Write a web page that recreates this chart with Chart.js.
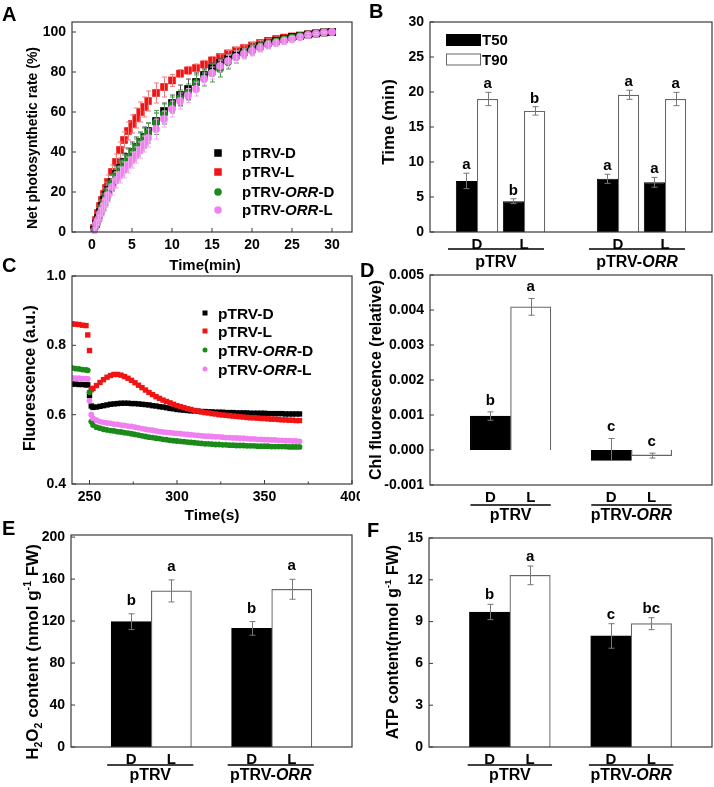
<!DOCTYPE html>
<html><head><meta charset="utf-8">
<script src="https://cdn.jsdelivr.net/npm/chart.js@4.4.0/dist/chart.umd.min.js"></script>
<style>
html,body{margin:0;padding:0;background:#fff;width:714px;height:787px;overflow:hidden;}
#wrap{position:relative;width:714px;height:787px;background:#fff;}
canvas{position:absolute;}
</style></head><body><div id="wrap"></div>
<script>
// ---------------- DATA ----------------
// Panel A: net photosynthetic rate (%) vs time (min)
const timeA = [0.25,0.5,0.75,1,1.25,1.5,1.75,2,2.5,3,3.5,4,4.5,5,5.5,6,6.5,7,8,9,10,11,12,13,14,15,16,17,18,19,20,21,22,23,24,25,26,27,28,29,30];
const rateD  = [1,4,7,10,13,16,18.5,21,25,29,32,35,37.5,40,42.5,45,47.5,50.5,55.5,60.5,64.5,68.5,71.5,75,78.5,82,84.5,86.5,88.5,90,91.5,93,94.5,95.5,96.5,97.5,98,98.8,99.3,99.8,100];
const rateL  = [2,6,9.5,13,16,19,22,25,30,35,41,46,50.5,54,57,60,62.5,65.5,69.5,72.5,75.8,79.2,80.8,82,83.8,85.8,87.5,89.3,90.8,92,93.3,94.5,95.6,96.5,97.2,97.8,98.3,98.8,99.3,99.8,100];
const rateOD = [0.5,3.5,6.5,9.5,12.5,15,17.5,20,24.5,28.5,31.5,34.5,37,39.5,42,44.5,47,49.5,54.8,59,63.5,67,70,74.5,77,79.5,81.5,85,87.5,89.5,91,92.5,94,95.2,96.3,97.2,98,98.7,99.2,99.8,100];
const rateOL = [0.5,4,6,9,11,13.5,16,18.5,22.5,26,28.5,31,33.5,36,38.5,41,44,47,51.5,56.5,61.5,65.5,68.3,71.5,76.5,79.5,83,85.5,87.5,89,90.5,92,93.5,94.5,95.5,96.5,97.5,98.5,99.2,99.8,100];
const errD  = [1,2,3,3,3,3.5,3.5,4,4,4,4,4.5,4.5,5,5,5,5,4,4,4,4,5,5,4.5,3,2.5,2.5,2.5,2,2,2,1.5,1.5,1.2,1,1,0.8,0.6,0.5,0.3,0];
const errL  = [1,2,2,2.5,3,3,3,3.5,3.5,4,4,4,4.5,4.5,5,5,5,5,5,5,3,2,2,2,2,2,1.5,1.5,1.5,1.5,1.5,1.2,1,1,1,0.8,0.8,0.5,0.5,0.3,0];
const errOD = [1,2,3,3.5,3.5,4,4,4,4,4,4,4,4.5,4.5,4.5,5,5,5,6,5,4,4,4,4,4,4.5,4,3.5,3,2.5,2.5,2,2,1.5,1.5,1,1,0.8,0.5,0.3,0];
const errOL = [1,2,2.5,3,3,3,3.5,3.5,4,4,4,4,4,4,4,4,4,4.5,5,4,4,4,3.5,3.5,3,3,3,3,3,2.5,2.5,2,2,1.5,1.5,1.2,1,0.8,0.5,0.3,0];
const ticksAx = [0,5,10,15,20,25,30];
const ticksAy = [0,20,40,60,80,100];

// Panel B: T50 / T90 (min)
const xCats = ['', 'D', 'L', '', 'D', 'L', ''];
const groupNames = ['pTRV', 'pTRV-ORR'];
const t50 = [7.3, 4.4, 7.6, 7.1];
const t50Err = [1.1, 0.35, 0.65, 0.7];
const t50Let = ['a', 'b', 'a', 'a'];
const t90 = [19.0, 17.3, 19.6, 19.0];
const t90Err = [0.95, 0.6, 0.65, 0.95];
const t90Let = ['a', 'b', 'a', 'a'];
const ticksB = [0,5,10,15,20,25,30];

// Panel C: fluorescence (a.u.) vs time (s)
const timeC = [240,242,244,246,248,249,250,251,252,254,256,258,260,262,264,266,268,270,272,274,276,278,280,282,284,286,288,290,292,294,296,298,300,302,304,306,308,310,312,314,316,318,320,322,324,326,328,330,332,334,336,338,340,342,344,346,348,350,352,354,356,358,360,362,364,366,368,370];
const fluD = [0.688,0.688,0.687,0.687,0.686,0.686,0.655,0.625,
 0.621,0.622,0.624,0.626,0.628,0.630,0.631,0.632,0.633,0.633,
 0.633,0.632,0.632,0.631,0.630,0.629,0.628,0.626,0.625,0.623,
 0.622,0.620,0.618,0.617,0.615,0.614,0.613,0.612,0.611,0.611,
 0.610,0.609,0.609,0.608,0.608,0.607,0.607,0.607,0.606,0.606,
 0.606,0.605,0.605,0.605,0.605,0.604,0.604,0.604,0.604,0.604,
 0.603,0.603,0.603,0.603,0.603,0.602,0.602,0.602,0.602,0.602];
const fluL = [0.862,0.861,0.860,0.858,0.857,0.830,0.785,0.672,
 0.676,0.684,0.693,0.701,0.708,0.713,0.716,0.716,0.714,0.710,
 0.705,0.699,0.692,0.685,0.678,0.671,0.664,0.658,0.652,0.647,
 0.642,0.638,0.634,0.630,0.626,0.623,0.620,0.617,0.615,0.612,
 0.610,0.608,0.606,0.605,0.603,0.602,0.600,0.599,0.598,0.597,
 0.596,0.595,0.594,0.593,0.592,0.591,0.591,0.590,0.589,0.589,
 0.588,0.587,0.587,0.586,0.585,0.585,0.584,0.584,0.583,0.583];
const fluOD = [0.735,0.733,0.732,0.730,0.729,0.728,0.665,0.580,
 0.570,0.564,0.561,0.558,0.556,0.554,0.553,0.551,0.550,0.548,
 0.547,0.545,0.543,0.541,0.539,0.537,0.535,0.534,0.532,0.531,
 0.529,0.528,0.526,0.525,0.524,0.523,0.522,0.521,0.520,0.519,
 0.518,0.517,0.516,0.516,0.515,0.514,0.514,0.513,0.513,0.512,
 0.512,0.511,0.511,0.511,0.510,0.510,0.510,0.509,0.509,0.509,
 0.509,0.508,0.508,0.508,0.508,0.508,0.507,0.507,0.507,0.507];
const fluOL = [0.706,0.705,0.705,0.704,0.704,0.703,0.640,0.600,
 0.590,0.584,0.580,0.578,0.576,0.575,0.573,0.572,0.570,0.569,
 0.567,0.566,0.564,0.562,0.560,0.558,0.556,0.555,0.553,0.551,
 0.550,0.549,0.548,0.547,0.546,0.545,0.544,0.543,0.542,0.541,
 0.540,0.539,0.538,0.538,0.537,0.536,0.536,0.535,0.534,0.534,
 0.533,0.533,0.532,0.532,0.531,0.530,0.530,0.529,0.529,0.528,
 0.528,0.527,0.527,0.526,0.526,0.525,0.525,0.524,0.524,0.523];
const ticksCx = [250,300,350,400];
const ticksCy = [0.4,0.6,0.8,1.0];

// Panel D: Chl fluorescence (relative)
const chl = [0.00097, 0.00409, -0.0003, -0.00016];
const chlErr = [0.00012, 0.00024, 0.00063, 0.00007];
const chlErrLow = [0.00012, 0.00024, 0, 0.00007];
const chlLet = ['b', 'a', 'c', 'c'];
const ticksD = [-0.001,0,0.001,0.002,0.003,0.004,0.005];

// Panel E: H2O2 content
const h2o2 = [119.4, 148.7, 113.0, 150.3];
const h2o2Err = [7.5, 10.5, 6.5, 9.5];
const h2o2Let = ['b', 'a', 'b', 'a'];
const ticksE = [0,40,80,120,160,200];

// Panel F: ATP content
const atp = [9.69, 12.32, 7.97, 8.85];
const atpErr = [0.55, 0.67, 0.88, 0.43];
const atpLet = ['b', 'a', 'c', 'bc'];
const ticksF = [0,3,6,9,12,15];

// ---------------- HELPERS ----------------
const FONT = '"Liberation Sans", Arial, sans-serif';
const fnt = (size, it) => (it ? 'italic ' : '') + 'bold ' + size + 'px ' + FONT;
const COL = {black:'#000000', red:'#f01414', green:'#1a8a1a', pink:'#f080f0'};
const ERRCOL = {black:'#555555', red:'#f27a7a', green:'#4d9e4d', pink:'#f0a8f0'};
const SLOTS = [1, 2, 4, 5];
function toSlots(vals) { const a = xCats.map(() => null); SLOTS.forEach((s, i) => a[s] = vals[i]); return a; }
function grpSegs(name) {
  const k = name.indexOf('ORR');
  if (k < 0) return [{t:name}];
  return [{t:name.slice(0,k)}, {t:'ORR', it:true}, {t:name.slice(k+3)}];
}
function richWidth(ctx, segs, size) {
  let w = 0;
  for (const s of segs) { const sz = (s.sub || s.sup) ? size * 0.62 : size; ctx.font = fnt(sz, s.it); w += ctx.measureText(s.t).width; }
  return w;
}
function drawRich(ctx, segs, x, y, size, align, rot) {
  ctx.save();
  if (rot) { ctx.translate(x + size * 0.36, y); ctx.rotate(-Math.PI / 2); } else ctx.translate(x, y);
  const w = richWidth(ctx, segs, size);
  let cx = align === 'left' ? 0 : align === 'right' ? -w : -w / 2;
  ctx.textBaseline = 'alphabetic'; ctx.textAlign = 'left'; ctx.fillStyle = '#000';
  for (const s of segs) {
    const sz = (s.sub || s.sup) ? size * 0.62 : size;
    ctx.font = fnt(sz, s.it);
    const dy = s.sub ? size * 0.22 : s.sup ? -size * 0.42 : 0;
    ctx.fillText(s.t, cx, dy);
    cx += ctx.measureText(s.t).width;
  }
  ctx.restore();
}
function seg(ctx, x1, y1, x2, y2) { ctx.beginPath(); ctx.moveTo(x1, y1); ctx.lineTo(x2, y2); ctx.stroke(); }

const decor = {
  id: 'decor',
  afterDatasetDraw(chart, args) {
    const ds = chart.data.datasets[args.index];
    if (!ds.errors) return;
    const ys = chart.scales.y, ctx = chart.ctx, cap = ds.capHalf || 3;
    ctx.save();
    ctx.strokeStyle = ds.errColor || '#777'; ctx.lineWidth = 1;
    args.meta.data.forEach((el, i) => {
      const raw = ds.data[i];
      const v = raw && typeof raw === 'object' ? raw.y : raw;
      const e = ds.errors[i];
      const eLow = ds.errorsLow ? ds.errorsLow[i] : e;
      if (v == null || !e) return;
      const x = Math.round(el.x) + 0.5;
      const y1 = ys.getPixelForValue(v + e), y2 = ys.getPixelForValue(v - eLow);
      ctx.beginPath();
      ctx.moveTo(x, y1); ctx.lineTo(x, y2);
      ctx.moveTo(x - cap, y1); ctx.lineTo(x + cap, y1);
      if (eLow) { ctx.moveTo(x - cap, y2); ctx.lineTo(x + cap, y2); }
      ctx.stroke();
    });
    ctx.restore();
  },
  afterDatasetsDraw(chart) {
    const o = chart.canvas.decor, ctx = chart.ctx, ys = chart.scales.y;
    chart.data.datasets.forEach((ds, di) => {
      if (!ds.letters) return;
      const meta = chart.getDatasetMeta(di);
      meta.data.forEach((el, i) => {
        const L = ds.letters[i], v = ds.data[i];
        if (!L || v == null) return;
        const top = ys.getPixelForValue(v + (ds.errors ? ds.errors[i] : 0));
        drawRich(ctx, [{t:L}], el.x, top - o.letterGap, o.letterSize || 15, 'center');
      });
    });
  },
  afterDraw(chart) {
    const o = chart.canvas.decor, ctx = chart.ctx, ca = chart.chartArea;
    ctx.save();
    ctx.strokeStyle = '#3a3a3a'; ctx.lineWidth = 1.2;
    ctx.strokeRect(ca.left, ca.top, ca.right - ca.left, ca.bottom - ca.top);
    const ys = chart.scales.y, xs = chart.scales.x;
    ctx.lineWidth = 1;
    ys.ticks.forEach(t => { const y = ys.getPixelForValue(t.value); seg(ctx, ca.left, y, ca.left + 4, y); });
    if (o.xTicks) {
      const tv = xs.ticks.map(t => t.value);
      tv.forEach(v => { const x = xs.getPixelForValue(v); seg(ctx, x, ca.bottom, x, ca.bottom - 4); });
      if (o.xMinor) for (let i = 0; i < tv.length; i++) {
        const step = i + 1 < tv.length ? tv[i+1] - tv[i] : tv[i] - tv[i-1];
        const x = xs.getPixelForValue(tv[i] + step / 2);
        if (x < ca.right - 1) seg(ctx, x, ca.bottom, x, ca.bottom - 2.5);
      }
    }
    if (o.groups) {
      ctx.strokeStyle = '#000'; ctx.lineWidth = 1.5;
      o.groups.forEach(g => {
        const x1 = xs.getPixelForValue(g.i1) - o.ga, x2 = xs.getPixelForValue(g.i2) + o.gb;
        seg(ctx, x1, o.lineY - o.oy, x2, o.lineY - o.oy);
        drawRich(ctx, g.segs, (x1 + x2) / 2, o.labelY - o.oy, o.gSize, 'center');
      });
    }
    ctx.translate(-o.ox, -o.oy);
    (o.texts || []).forEach(t => drawRich(ctx, t.segs, t.x, t.y, t.size, t.align || 'center', t.rot));
    if (o.legend) {
      const lg = o.legend;
      lg.items.forEach((it, i) => {
        const y = lg.ys[i];
        ctx.fillStyle = it.color;
        if (it.kind === 'rect') ctx.fillRect(lg.mx - lg.ms / 2, y - lg.ms / 2, lg.ms, lg.ms);
        else if (it.kind === 'circle') { ctx.beginPath(); ctx.arc(lg.mx, y, lg.ms / 2, 0, Math.PI * 2); ctx.fill(); }
        else if (it.kind === 'box') {
          ctx.fillRect(lg.mx, y - lg.bh / 2, lg.bw, lg.bh);
          ctx.strokeStyle = it.stroke; ctx.lineWidth = 1;
          ctx.strokeRect(lg.mx + 0.5, y - lg.bh / 2 + 0.5, lg.bw - 1, lg.bh - 1);
        }
        drawRich(ctx, it.segs, lg.tx, y + lg.size * 0.36, lg.size, 'left');
      });
    }
    ctx.restore();
  }
};

const wrap = document.getElementById('wrap');
function tickCfg(list, size, pad, cb) {
  const c = {
    afterBuildTicks: s => { s.ticks = list.map(v => ({value: v})); },
    ticks: {font: {family: FONT, weight: 'bold', size: size}, color: '#000', padding: pad, maxRotation: 0, autoSkip: false},
    grid: {display: false, drawTicks: false}, border: {display: false}
  };
  if (cb) c.ticks.callback = cb;
  return c;
}
function makeChart(p) {
  const cv = document.createElement('canvas');
  cv.width = p.cw; cv.height = p.ch;
  cv.style.left = p.cx + 'px'; cv.style.top = p.cy + 'px';
  cv.style.width = p.cw + 'px'; cv.style.height = p.ch + 'px';
  wrap.appendChild(cv);
  cv.decor = Object.assign({ox: p.cx, oy: p.cy}, p.decor);
  const yW = p.L - p.cx, xH = p.cy + p.ch - p.B;
  p.yScale.afterFit = s => { s.width = yW; s.paddingTop = 0; s.paddingBottom = 0; };
  p.xScale.afterFit = s => { s.height = xH; s.paddingLeft = 0; s.paddingRight = 0; };
  p.yScale.position = 'left'; p.xScale.position = 'bottom';
  return new Chart(cv, {
    type: p.type, data: p.data,
    options: {
      responsive: false, animation: false, events: [], devicePixelRatio: 1,
      layout: {padding: {left: 0, top: p.T - p.cy, right: p.cx + p.cw - p.R, bottom: 0}},
      scales: {x: p.xScale, y: p.yScale},
      plugins: {legend: {display: false}, tooltip: {enabled: false}, title: {display: false}}
    },
    plugins: [decor]
  });
}

// ---------------- PANEL A ----------------
function dsA(vals, errs, col, style, r, ord) {
  return {data: timeA.map((t, i) => ({x: t, y: vals[i]})), errors: errs, errColor: ERRCOL[col], capHalf: 2.5,
    pointStyle: style, pointRadius: r, backgroundColor: COL[col], borderWidth: 0, showLine: false, order: ord};
}
const segsA = [[{t:'pTRV-D'}], [{t:'pTRV-L'}], [{t:'pTRV-'},{t:'ORR',it:true},{t:'-D'}], [{t:'pTRV-'},{t:'ORR',it:true},{t:'-L'}]];
makeChart({cx:0, cy:0, cw:360, ch:275, L:72, T:22, R:352, B:232, type:'scatter',
  data: {datasets: [dsA(rateD, errD, 'black', 'rect', 5.4, 3), dsA(rateL, errL, 'red', 'rect', 5.4, 4),
                    dsA(rateOD, errOD, 'green', 'circle', 3.9, 2), dsA(rateOL, errOL, 'pink', 'circle', 3.9, 1)]},
  xScale: Object.assign({type:'linear', min:-2.5, max:32.5}, tickCfg(ticksAx, 14, 5)),
  yScale: Object.assign({type:'linear', min:0, max:105}, tickCfg(ticksAy, 14, 6)),
  decor: {xTicks: true, xMinor: false,
    texts: [{segs:[{t:'A'}], x:2, y:21, size:20, align:'left'},
            {segs:[{t:'Net photosynthetic rate (%)'}], x:32, y:138, size:14, rot:true},
            {segs:[{t:'Time(min)'}], x:205, y:270, size:15}],
    legend: {mx:218, tx:242, ys:[153,172,192,210], ms:7.5, size:15,
      items: [{segs:segsA[0], kind:'rect', color:COL.black}, {segs:segsA[1], kind:'rect', color:COL.red},
              {segs:segsA[2], kind:'circle', color:COL.green}, {segs:segsA[3], kind:'circle', color:COL.pink}]}}
});

// ---------------- PANEL B ----------------
makeChart({cx:358, cy:0, cw:356, ch:275, L:430, T:22, R:712, B:232, type:'bar',
  data: {labels: xCats, datasets: [
    {data: toSlots(t50), errors: toSlots(t50Err), letters: toSlots(t50Let), errColor:'#777', capHalf:3,
     backgroundColor:'#000', borderColor:'#000', borderWidth:1, barPercentage:1, categoryPercentage:0.9},
    {data: toSlots(t90), errors: toSlots(t90Err), letters: toSlots(t90Let), errColor:'#777', capHalf:3,
     backgroundColor:'#fff', borderColor:'#666', borderWidth:1.2, barPercentage:1, categoryPercentage:0.9}]},
  xScale: {type:'category', offset:false, ticks:{font:{family:FONT, weight:'bold', size:15}, color:'#000', padding:4, maxRotation:0, autoSkip:false},
           grid:{display:false, drawTicks:false}, border:{display:false}},
  yScale: Object.assign({type:'linear', min:0, max:30}, tickCfg(ticksB, 14, 6)),
  decor: {letterGap: 4, letterSize: 15,
    groups: [{i1:1, i2:2, segs:grpSegs(groupNames[0])}, {i1:4, i2:5, segs:grpSegs(groupNames[1])}],
    ga: 29, gb: 20, lineY: 249, labelY: 267, gSize: 16,
    texts: [{segs:[{t:'B'}], x:369, y:18, size:20, align:'left'},
            {segs:[{t:'Time (min)'}], x:388, y:122, size:17, rot:true}],
    legend: {mx:446, tx:482, ys:[40,59.5], bw:35, bh:12, size:15,
      items: [{segs:[{t:'T50'}], kind:'box', color:'#000', stroke:'#000'}, {segs:[{t:'T90'}], kind:'box', color:'#fff', stroke:'#666'}]}}
});

// ---------------- PANEL C ----------------
function dsC(vals, col, style, r, ord) {
  return {data: timeC.map((t, i) => ({x: t, y: vals[i]})), pointStyle: style, pointRadius: r,
    backgroundColor: COL[col], borderWidth: 0, showLine: false, order: ord};
}
makeChart({cx:0, cy:255, cw:360, ch:270, L:72, T:276, R:352, B:484, type:'scatter',
  data: {datasets: [dsC(fluD, 'black', 'rect', 3.8, 4), dsC(fluL, 'red', 'rect', 3.8, 3),
                    dsC(fluOD, 'green', 'circle', 2.9, 2), dsC(fluOL, 'pink', 'circle', 2.9, 1)]},
  xScale: Object.assign({type:'linear', min:240, max:400}, tickCfg(ticksCx, 14, 5)),
  yScale: Object.assign({type:'linear', min:0.4, max:1.0}, tickCfg(ticksCy, 14, 6, v => v.toFixed(1))),
  decor: {xTicks: true, xMinor: true,
    texts: [{segs:[{t:'C'}], x:2, y:272, size:20, align:'left'},
            {segs:[{t:'Fluorescence (a.u.)'}], x:29, y:378, size:16, rot:true},
            {segs:[{t:'Time(s)'}], x:212, y:520, size:15.5}],
    legend: {mx:205, tx:218, ys:[313,331,350,369], ms:5, size:15.5,
      items: [{segs:segsA[0], kind:'rect', color:COL.black}, {segs:segsA[1], kind:'rect', color:COL.red},
              {segs:segsA[2], kind:'circle', color:COL.green}, {segs:segsA[3], kind:'circle', color:COL.pink}]}}
});

// ---------------- BAR PANELS D, E, F ----------------
const slotFill = xCats.map((c) => c === 'D' ? '#000' : '#fff');
const slotLine = xCats.map((c) => c === 'D' ? '#000' : '#666');
function barPanel(p, vals, errs, errsLow, lets, ticks, cb, decor) {
  const ds = {data: toSlots(vals), errors: toSlots(errs), letters: toSlots(lets), errColor:'#777', capHalf:3,
      backgroundColor: slotFill, borderColor: slotLine, borderWidth: 1.2, barPercentage: 1, categoryPercentage: 1};
  if (errsLow) ds.errorsLow = toSlots(errsLow);
  makeChart(Object.assign(p, {type:'bar',
    data: {labels: xCats, datasets: [ds]},
    xScale: {type:'category', offset:true, ticks:{font:{family:FONT, weight:'bold', size:15}, color:'#000', padding:4, maxRotation:0, autoSkip:false},
             grid:{display:false, drawTicks:false}, border:{display:false}},
    yScale: Object.assign({type:'linear', min:p.ymin, max:p.ymax}, tickCfg(ticks, 14, 6, cb)),
    decor: decor}));
}
barPanel({cx:358, cy:255, cw:356, ch:270, L:430, T:275, R:712, B:485, ymin:-0.001, ymax:0.005},
  chl, chlErr, chlErrLow, chlLet, ticksD, v => v.toFixed(3),
  {letterGap: 7, letterSize: 15,
   groups: [{i1:1, i2:2, segs:grpSegs(groupNames[0])}, {i1:4, i2:5, segs:grpSegs(groupNames[1])}],
   ga: 20, gb: 20, lineY: 505, labelY: 520, gSize: 16,
   texts: [{segs:[{t:'D'}], x:360, y:277, size:20, align:'left'},
           {segs:[{t:'Chl fluorescence (relative)'}], x:375, y:380, size:16, rot:true}]});

barPanel({cx:0, cy:512, cw:360, ch:275, L:71, T:535, R:352, B:747, ymin:0, ymax:202},
  h2o2, h2o2Err, null, h2o2Let, ticksE, null,
  {letterGap: 9, letterSize: 15,
   groups: [{i1:1, i2:2, segs:grpSegs(groupNames[0])}, {i1:4, i2:5, segs:grpSegs(groupNames[1])}],
   ga: 24, gb: 22, lineY: 765, labelY: 780, gSize: 16,
   texts: [{segs:[{t:'E'}], x:2, y:535, size:20, align:'left'},
           {segs:[{t:'H'},{t:'2',sub:true},{t:'O'},{t:'2',sub:true},{t:' content (nmol g'},{t:'-1',sup:true},{t:' FW)'}], x:32, y:652, size:17, rot:true}]});

barPanel({cx:358, cy:512, cw:356, ch:275, L:429, T:538, R:712, B:747, ymin:0, ymax:15},
  atp, atpErr, null, atpLet, ticksF, null,
  {letterGap: 5, letterSize: 15,
   groups: [{i1:1, i2:2, segs:grpSegs(groupNames[0])}, {i1:4, i2:5, segs:grpSegs(groupNames[1])}],
   ga: 22, gb: 22, lineY: 765, labelY: 780, gSize: 16,
   texts: [{segs:[{t:'F'}], x:367, y:537, size:20, align:'left'},
           {segs:[{t:'ATP content(nmol g'},{t:'-1',sup:true},{t:' FW)'}], x:392, y:642, size:16, rot:true}]});
</script></body></html>
